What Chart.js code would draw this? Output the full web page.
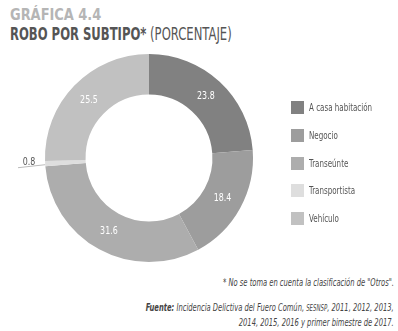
<!DOCTYPE html>
<html lang="es">
<head>
<meta charset="UTF-8">
<title>Gráfica 4.4 | Robo por subtipo</title>
<script src="https://cdn.jsdelivr.net/npm/chart.js"></script>
<style>
    body {
        margin: 0;
        background: #fff;
        font-family: "Liberation Sans Narrow", "DejaVu Sans Condensed", "Liberation Sans", sans-serif;
        font-stretch: condensed;
    }

    .janela {
        position: relative;
        width: 398px;
        height: 331px;
        overflow: hidden;
    }

    .estreito {
        display: inline-block;
        transform-origin: left center;
    }

    .titulo1 {
        position: absolute;
        left: 10px;
        top: 5px;
        font-size: 16px;
        font-weight: bold;
        color: #b5b5b5;
        white-space: nowrap;
    }

    .titulo2 {
        position: absolute;
        left: 10px;
        top: 24px;
        font-size: 17px;
        color: #555;
        white-space: nowrap;
    }

    .caixa-grafico {
        position: absolute;
        left: 0;
        top: 50px;
        width: 298px;
        height: 216px;
    }

    #legenda {
        position: absolute;
        left: 291px;
        top: 101px;
    }

    .item {
        display: flex;
        align-items: center;
        height: 13px;
        margin-bottom: 14.75px;
        font-size: 11px;
        color: #555;
        white-space: nowrap;
    }

    .item .quadro {
        display: inline-block;
        width: 13px;
        height: 13px;
        margin-right: 5px;
    }

    .item .estreito {
        transform: scaleX(0.72);
    }

    .nota {
        position: absolute;
        right: 4px;
        font-size: 10px;
        font-style: italic;
        color: #444;
        text-align: right;
        white-space: nowrap;
        transform: scaleX(0.75);
        transform-origin: right center;
    }
</style>
</head>
<body>
<div class="janela">
    <div class="titulo1"><span class="estreito" style="transform:scaleX(0.9)">GRÁFICA 4.4</span></div>
    <div class="titulo2"><span class="estreito" style="transform:scaleX(0.76)"><b>ROBO POR SUBTIPO*</b> (PORCENTAJE)</span></div>
    <div class="caixa-grafico"><canvas id="grafico"></canvas></div>
    <div id="legenda"></div>
    <div class="nota" style="top:277px">* No se toma en cuenta la clasificación de "Otros".</div>
    <div class="nota" style="top:301px;line-height:14px"><b>Fuente:</b> Incidencia Delictiva del Fuero Común, <span style="font-size:8px">SESNSP</span>, 2011, 2012, 2013,<br>2014, 2015, 2016 y primer bimestre de 2017.</div>
</div>

<script>
    const categorias = ['A casa habitación', 'Negocio', 'Transeúnte', 'Transportista', 'Vehículo'];
    const porcentajes = [23.8, 18.4, 31.6, 0.8, 25.5];
    const cores = ['#818181', '#9d9d9d', '#adadad', '#dedede', '#c1c1c1'];

    // legenda em html
    const legenda = document.getElementById('legenda');
    categorias.forEach((nome, i) => {
        const item = document.createElement('div');
        item.className = 'item';
        item.innerHTML = `<span class="quadro" style="background:${cores[i]}"></span><span class="estreito">${nome}</span>`;
        legenda.appendChild(item);
    });

    const rotulos = {
        id: 'rotulos',
        afterDatasetsDraw(chart) {
            const ctx = chart.ctx;
            const meta = chart.getDatasetMeta(0);
            ctx.save();
            ctx.font = '11px "Liberation Sans Narrow", "DejaVu Sans Condensed", sans-serif';
            ctx.textAlign = 'center';
            ctx.textBaseline = 'middle';
            meta.data.forEach((arc, i) => {
                const valor = porcentajes[i].toFixed(1);
                let x, y;
                if (porcentajes[i] < 2) {
                    // fatia pequena: rotulo fora com linha
                    const p = arc.getProps(['x', 'y', 'startAngle', 'endAngle', 'outerRadius']);
                    const ang = (p.startAngle + p.endAngle) / 2;
                    const bx = p.x + Math.cos(ang) * p.outerRadius;
                    const by = p.y + Math.sin(ang) * p.outerRadius;
                    ctx.strokeStyle = '#bbb';
                    ctx.lineWidth = 1;
                    ctx.beginPath();
                    ctx.moveTo(18, by + 4);
                    ctx.lineTo(bx, by + 1);
                    ctx.stroke();
                    ctx.fillStyle = '#555';
                    x = 29;
                    y = by - 2;
                } else {
                    const pos = arc.tooltipPosition();
                    ctx.fillStyle = '#fff';
                    x = pos.x;
                    y = pos.y;
                }
                ctx.save();
                ctx.translate(x, y);
                ctx.scale(0.8, 1);
                ctx.fillText(valor, 0, 0);
                ctx.restore();
            });
            ctx.restore();
        }
    };

    const ctx = document.getElementById('grafico').getContext('2d');
    const grafico = new Chart(ctx, {
        type: 'doughnut',
        data: {
            labels: categorias,
            datasets: [{
                data: porcentajes,
                backgroundColor: cores,
                borderWidth: 0
            }]
        },
        options: {
            responsive: true,
            maintainAspectRatio: false,
            animation: false,
            cutout: '61%',
            layout: { padding: 4 },
            plugins: {
                legend: { display: false },
                tooltip: { enabled: false }
            }
        },
        plugins: [rotulos]
    });
</script>
</body>
</html>
